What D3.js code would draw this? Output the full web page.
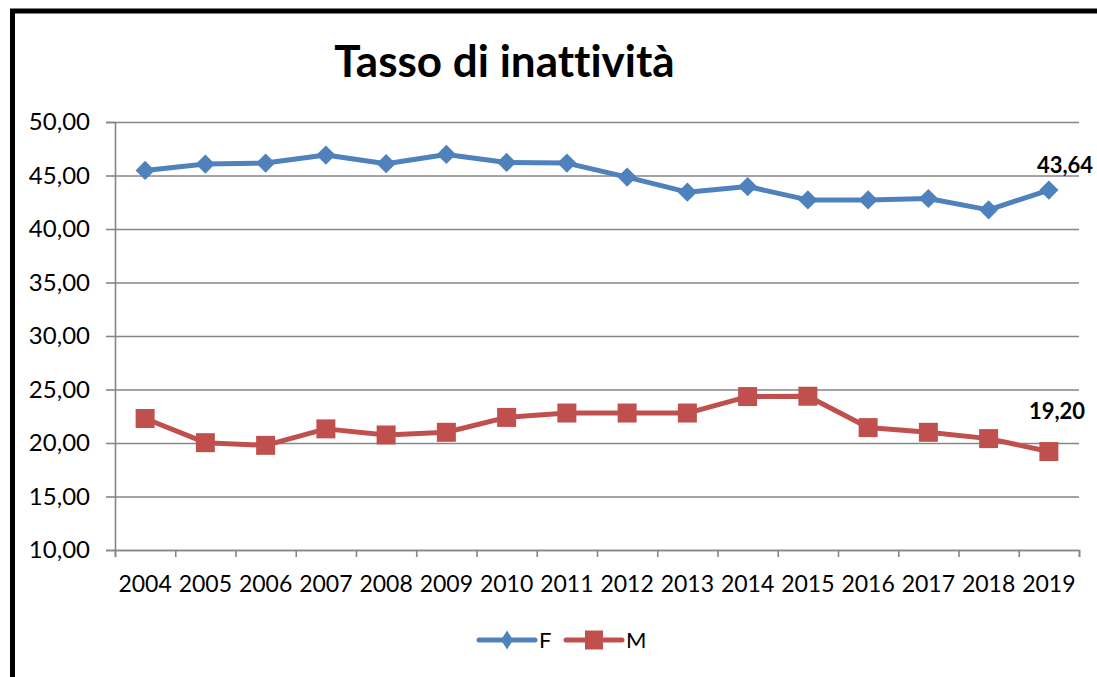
<!DOCTYPE html>
<html>
<head>
<meta charset="utf-8">
<script src="https://cdn.jsdelivr.net/npm/d3@7"></script>
<style>
  html, body { margin: 0; padding: 0; background: #fff; }
  svg { display: block; }
  text { font-variant-ligatures: none; font-feature-settings: "liga" 0; }
</style>
</head>
<body>
<div id="chart"></div>
<script>
// data
const years = ["2004","2005","2006","2007","2008","2009","2010","2011","2012","2013","2014","2015","2016","2017","2018","2019"];
const femmine = [45.47, 46.07, 46.16, 46.91, 46.10, 46.97, 46.22, 46.16, 44.85, 43.44, 43.97, 42.72, 42.72, 42.85, 41.79, 43.64];
const maschi  = [22.29, 20.03, 19.78, 21.32, 20.75, 21.00, 22.39, 22.80, 22.80, 22.80, 24.34, 24.37, 21.44, 21.00, 20.41, 19.20];
const yTicks = [10, 15, 20, 25, 30, 35, 40, 45, 50];

const W = 1097, H = 677;
const plot = {left: 115, right: 1079, top: 122, bottom: 550};
const font = "Lato, 'Open Sans', sans-serif";
const grey = "#868686";

const svg = d3.select("#chart").append("svg")
  .attr("width", W)
  .attr("height", H);

// outer frame (cropped on the right and bottom)
svg.append("rect")
  .attr("x", 12.5).attr("y", 11)
  .attr("width", 1200).attr("height", 1000)
  .attr("fill", "none")
  .attr("stroke", "#000")
  .attr("stroke-width", 5);

const x = d3.scaleBand().domain(years).range([plot.left, plot.right]).padding(0);
const xEdge = d3.scaleLinear().domain([0, years.length]).range([plot.left, plot.right]);
const y = d3.scaleLinear().domain([10, 50]).range([plot.bottom, plot.top]);
const cx = d => x(d) + x.bandwidth() / 2;
const fmt = v => d3.format(".2f")(v).replace(".", ",");

// gridlines
svg.append("g")
  .attr("transform", "translate(" + plot.left + ",0)")
  .call(d3.axisLeft(y).tickValues(yTicks).tickSize(-(plot.right - plot.left)).tickFormat(""))
  .call(g => g.select(".domain").remove())
  .selectAll("line").attr("stroke", grey).attr("stroke-width", 1.6);

// y axis
const yAxis = svg.append("g")
  .attr("transform", "translate(" + plot.left + ",0)")
  .call(d3.axisLeft(y).tickValues(yTicks).tickSize(9).tickPadding(16).tickFormat(fmt));
yAxis.select(".domain").attr("stroke", grey).attr("stroke-width", 1.6);
yAxis.selectAll("line").attr("stroke", grey).attr("stroke-width", 1.6);
yAxis.selectAll("text")
  .style("font-family", font).style("font-size", "24px").attr("fill", "#000");

// x axis: ticks between categories
const xAxis = svg.append("g")
  .attr("transform", "translate(0," + plot.bottom + ")")
  .call(d3.axisBottom(xEdge).tickValues(d3.range(years.length + 1)).tickSize(7).tickFormat(""));
xAxis.select(".domain").attr("stroke", grey).attr("stroke-width", 1.6);
xAxis.selectAll("line").attr("stroke", grey).attr("stroke-width", 1.6);

svg.append("g").selectAll("text")
  .data(years).enter()
  .append("text")
    .attr("x", d => cx(d))
    .attr("y", 592)
    .attr("text-anchor", "middle")
    .style("font-family", font).style("font-size", "23px")
    .text(d => d);

// title
svg.append("text")
  .attr("x", 504.5).attr("y", 77)
  .attr("text-anchor", "middle")
  .style("font-family", font).style("font-size", "44px").style("font-weight", "bold")
  .text("Tasso di inattività");

// series
const series = [
  {name: "F", values: femmine, color: "#4F81BD", marker: "diamond"},
  {name: "M", values: maschi,  color: "#C0504D", marker: "square"}
];

const line = d3.line().x((d, i) => cx(years[i])).y(d => y(d));
const diamond = d3.symbol(d3.symbolSquare, 185);
const square = d3.symbol(d3.symbolSquare, 361);

series.forEach(s => {
  svg.append("path")
    .datum(s.values)
    .attr("d", line)
    .attr("fill", "none")
    .attr("stroke", s.color)
    .attr("stroke-width", 5)
    .attr("stroke-linejoin", "round");

  svg.append("g").selectAll("path")
    .data(s.values).enter()
    .append("path")
      .attr("d", s.marker === "diamond" ? diamond : square)
      .attr("transform", (d, i) => "translate(" + cx(years[i]) + "," + y(d) + ")" + (s.marker === "diamond" ? " rotate(45)" : ""))
      .attr("fill", s.color);
});

// last value labels
const last = years.length - 1;
svg.append("text")
  .attr("x", cx(years[last]) - 12).attr("y", y(femmine[last]) - 17)
  .style("font-family", font).style("font-size", "22px").style("font-weight", "bold")
  .text(fmt(femmine[last]));
svg.append("text")
  .attr("x", cx(years[last]) - 20).attr("y", y(maschi[last]) - 33)
  .style("font-family", font).style("font-size", "22px").style("font-weight", "bold")
  .text(fmt(maschi[last]));

// legend
const legend = svg.append("g").attr("transform", "translate(479,640)");
series.forEach((s, i) => {
  const g = legend.append("g").attr("transform", "translate(" + (i * 87) + ",0)");
  g.append("line")
    .attr("x1", 0).attr("x2", 56)
    .attr("stroke", s.color).attr("stroke-width", 5).attr("stroke-linecap", "round");
  if (s.marker === "diamond") {
    g.append("path").attr("d", "M0,-9.5L6,0L0,9.5L-6,0Z")
      .attr("transform", "translate(28,0)").attr("fill", s.color);
  } else {
    g.append("rect").attr("x", 19).attr("y", -9.5).attr("width", 18).attr("height", 19)
      .attr("fill", s.color);
  }
  g.append("text")
    .attr("x", 60).attr("y", 8)
    .style("font-family", font).style("font-size", "22px")
    .text(s.name);
});
</script>
</body>
</html>
